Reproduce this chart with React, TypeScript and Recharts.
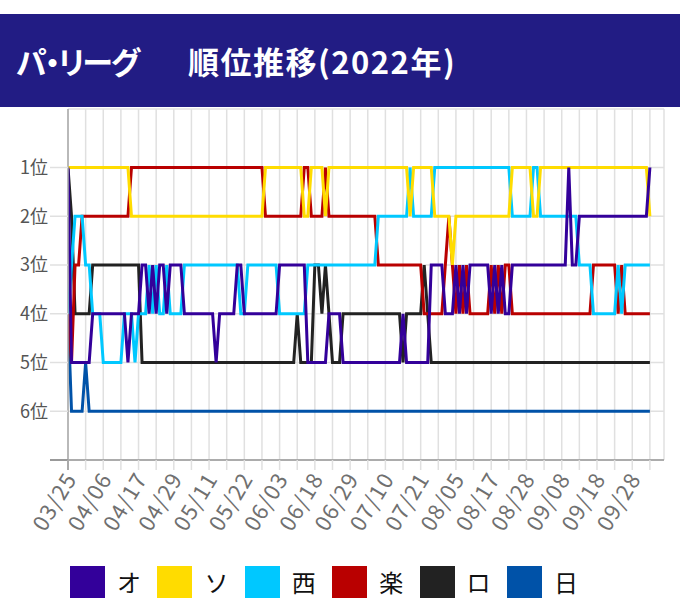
import React from 'react';
import { LineChart, Line, XAxis, YAxis, CartesianGrid } from 'recharts';

// tick labels: one every 10 game days
const DATE_LABELS = ['03/25', '04/06', '04/17', '04/29', '05/11', '05/22', '06/03', '06/18', '06/29', '07/10', '07/21', '08/05', '08/17', '08/28', '09/08', '09/18', '09/28'];
const RANK_LABELS = ['1位', '2位', '3位', '4位', '5位', '6位'];

const TEAMS = ['オ', 'ソ', '西', '楽', 'ロ', '日'];
const TEAM_KEYS = ['o', 's', 'l', 'e', 'm', 'f'];
const TEAM_COLORS = ['#33009a', '#ffdc00', '#00c8ff', '#b90000', '#222222', '#0052a8'];

// rank per game day (index 0 = 03/25)
const ORIX = [
  1, 5, 5, 5, 5, 5, 5, 4, 4, 4, 4, 4, 4, 4, 4, 4, 4, 5, 4, 4,
  4, 3, 3, 4, 3, 4, 3, 3, 4, 3, 3, 3, 3, 4, 4, 4, 4, 4, 4, 4,
  4, 4, 5, 4, 4, 4, 4, 4, 3, 3, 4, 4, 4, 4, 4, 4, 4, 4, 4, 4,
  3, 3, 3, 3, 3, 3, 3, 3, 5, 5, 5, 5, 5, 5, 4, 4, 4, 4, 5, 5,
  5, 5, 5, 5, 5, 5, 5, 5, 5, 5, 5, 5, 5, 5, 5, 4, 5, 5, 5, 5,
  5, 5, 5, 3, 3, 3, 3, 4, 4, 4, 3, 4, 3, 4, 3, 3, 3, 3, 3, 3,
  4, 3, 4, 3, 4, 4, 3, 3, 3, 3, 3, 3, 3, 3, 3, 3, 3, 3, 3, 3,
  3, 3, 1, 3, 3, 2, 2, 2, 2, 2, 2, 2, 2, 2, 2, 2, 2, 2, 2, 2,
  2, 2, 2, 2, 2, 1,
];
const SOFTBANK = [
  1, 1, 1, 1, 1, 1, 1, 1, 1, 1, 1, 1, 1, 1, 1, 1, 1, 1, 2, 2,
  2, 2, 2, 2, 2, 2, 2, 2, 2, 2, 2, 2, 2, 2, 2, 2, 2, 2, 2, 2,
  2, 2, 2, 2, 2, 2, 2, 2, 2, 2, 2, 2, 2, 2, 2, 2, 1, 1, 1, 1,
  1, 1, 1, 1, 1, 1, 1, 2, 2, 1, 1, 1, 1, 2, 1, 1, 1, 1, 1, 1,
  1, 1, 1, 1, 1, 1, 1, 1, 1, 1, 1, 1, 1, 1, 1, 1, 1, 2, 1, 1,
  1, 1, 1, 1, 2, 2, 2, 2, 2, 3, 2, 2, 2, 2, 2, 2, 2, 2, 2, 2,
  2, 2, 2, 2, 2, 2, 1, 1, 1, 1, 1, 1, 2, 2, 1, 1, 1, 1, 1, 1,
  1, 1, 1, 1, 1, 1, 1, 1, 1, 1, 1, 1, 1, 1, 1, 1, 1, 1, 1, 1,
  1, 1, 1, 1, 1, 2,
];
const SEIBU = [
  4, 3, 2, 2, 2, 3, 3, 4, 4, 4, 5, 5, 5, 5, 5, 5, 4, 4, 4, 5,
  4, 4, 4, 3, 4, 3, 4, 4, 3, 4, 4, 4, 4, 3, 3, 3, 3, 3, 3, 3,
  3, 3, 3, 3, 3, 3, 3, 3, 3, 4, 4, 3, 3, 3, 3, 3, 3, 3, 3, 3,
  4, 4, 4, 4, 4, 4, 4, 4, 3, 3, 3, 3, 3, 3, 3, 3, 3, 3, 3, 3,
  3, 3, 3, 3, 3, 3, 3, 3, 2, 2, 2, 2, 2, 2, 2, 2, 2, 1, 2, 2,
  2, 2, 2, 2, 1, 1, 1, 1, 1, 1, 1, 1, 1, 1, 1, 1, 1, 1, 1, 1,
  1, 1, 1, 1, 1, 1, 2, 2, 2, 2, 2, 2, 1, 1, 2, 2, 2, 2, 2, 2,
  2, 2, 2, 2, 2, 3, 3, 3, 3, 4, 4, 4, 4, 4, 4, 4, 3, 4, 3, 3,
  3, 3, 3, 3, 3, 3,
];
const RAKUTEN = [
  4, 5, 3, 3, 2, 2, 2, 2, 2, 2, 2, 2, 2, 2, 2, 2, 2, 2, 1, 1,
  1, 1, 1, 1, 1, 1, 1, 1, 1, 1, 1, 1, 1, 1, 1, 1, 1, 1, 1, 1,
  1, 1, 1, 1, 1, 1, 1, 1, 1, 1, 1, 1, 1, 1, 1, 1, 2, 2, 2, 2,
  2, 2, 2, 2, 2, 2, 2, 1, 1, 2, 2, 2, 2, 1, 2, 2, 2, 2, 2, 2,
  2, 2, 2, 2, 2, 2, 2, 2, 3, 3, 3, 3, 3, 3, 3, 3, 3, 3, 3, 3,
  3, 4, 4, 4, 4, 4, 4, 3, 2, 3, 4, 3, 4, 3, 4, 4, 4, 4, 4, 4,
  3, 4, 3, 4, 3, 3, 4, 4, 4, 4, 4, 4, 4, 4, 4, 4, 4, 4, 4, 4,
  4, 4, 4, 4, 4, 4, 4, 4, 4, 3, 3, 3, 3, 3, 3, 3, 4, 3, 4, 4,
  4, 4, 4, 4, 4, 4,
];
const LOTTE = [
  1, 2, 4, 4, 4, 4, 4, 3, 3, 3, 3, 3, 3, 3, 3, 3, 3, 3, 3, 3,
  3, 5, 5, 5, 5, 5, 5, 5, 5, 5, 5, 5, 5, 5, 5, 5, 5, 5, 5, 5,
  5, 5, 5, 5, 5, 5, 5, 5, 5, 5, 5, 5, 5, 5, 5, 5, 5, 5, 5, 5,
  5, 5, 5, 5, 5, 4, 5, 5, 5, 5, 3, 3, 4, 3, 4, 5, 5, 5, 4, 4,
  4, 4, 4, 4, 4, 4, 4, 4, 4, 4, 4, 4, 4, 4, 4, 5, 4, 4, 4, 4,
  4, 3, 4, 5, 5, 5, 5, 5, 5, 5, 5, 5, 5, 5, 5, 5, 5, 5, 5, 5,
  5, 5, 5, 5, 5, 5, 5, 5, 5, 5, 5, 5, 5, 5, 5, 5, 5, 5, 5, 5,
  5, 5, 5, 5, 5, 5, 5, 5, 5, 5, 5, 5, 5, 5, 5, 5, 5, 5, 5, 5,
  5, 5, 5, 5, 5, 5,
];
const NIPPONHAM = [
  4, 6, 6, 6, 6, 5, 6, 6, 6, 6, 6, 6, 6, 6, 6, 6, 6, 6, 6, 6,
  6, 6, 6, 6, 6, 6, 6, 6, 6, 6, 6, 6, 6, 6, 6, 6, 6, 6, 6, 6,
  6, 6, 6, 6, 6, 6, 6, 6, 6, 6, 6, 6, 6, 6, 6, 6, 6, 6, 6, 6,
  6, 6, 6, 6, 6, 6, 6, 6, 6, 6, 6, 6, 6, 6, 6, 6, 6, 6, 6, 6,
  6, 6, 6, 6, 6, 6, 6, 6, 6, 6, 6, 6, 6, 6, 6, 6, 6, 6, 6, 6,
  6, 6, 6, 6, 6, 6, 6, 6, 6, 6, 6, 6, 6, 6, 6, 6, 6, 6, 6, 6,
  6, 6, 6, 6, 6, 6, 6, 6, 6, 6, 6, 6, 6, 6, 6, 6, 6, 6, 6, 6,
  6, 6, 6, 6, 6, 6, 6, 6, 6, 6, 6, 6, 6, 6, 6, 6, 6, 6, 6, 6,
  6, 6, 6, 6, 6, 6,
];

const SERIES = [ORIX, SOFTBANK, SEIBU, RAKUTEN, LOTTE, NIPPONHAM];

const data = ORIX.map((_, i) => {
  const row: Record<string, number> = { i };
  TEAM_KEYS.forEach((k, t) => {
    row[k] = SERIES[t][i];
  });
  return row;
});

const X_TICKS: number[] = [];
for (let v = 0; v <= 165; v += 5) X_TICKS.push(v);

const FONT = '"Noto Sans CJK JP", "Noto Sans", sans-serif';

const XTick = (props: any) => {
  const { x, y, payload } = props;
  const v = payload.value as number;
  if (v % 10 !== 0) return null;
  const label = DATE_LABELS[v / 10];
  const ax = x + 4;
  const ay = y + 3;
  return (
    <text
      x={ax}
      y={ay}
      dy="0.3em"
      textAnchor="end"
      transform={`rotate(-59, ${ax}, ${ay})`}
      fill="#707070"
      fontSize={22}
      letterSpacing={1.2}
      fontFamily={FONT}
    >
      {label}
    </text>
  );
};

export default function App() {
  const drawOrder = [5, 4, 3, 2, 1, 0];
  return (
    <div style={{ position: 'absolute', left: 0, top: 0, width: 680, height: 615, background: '#fff', overflow: 'hidden', fontFamily: FONT }}>
      <div style={{ position: 'absolute', left: 0, top: 14, width: 680, height: 93, background: '#221c84' }}>
        <div style={{ position: 'absolute', left: 16, top: 0, lineHeight: '93px', color: '#fff', fontSize: 31, fontWeight: 700, whiteSpace: 'nowrap', fontFeatureSettings: '"palt"', letterSpacing: -2 }}>
          パ・リーグ
        </div>
        <div style={{ position: 'absolute', left: 188, top: 0, lineHeight: '93px', color: '#fff', fontSize: 31, fontWeight: 700, whiteSpace: 'nowrap', fontFeatureSettings: '"palt"', letterSpacing: 1.5 }}>
          順位推移(2022年)
        </div>
      </div>
      <div style={{ position: 'absolute', left: 0, top: 0 }}>
        <LineChart width={680} height={540} data={data} margin={{ top: 109, right: 16, left: 0, bottom: 0 }}>
          <CartesianGrid stroke="#e0e0e0" strokeWidth={1.5} />
          <XAxis
            dataKey="i"
            type="number"
            domain={[0, 169]}
            ticks={X_TICKS}
            interval={0}
            allowDataOverflow
            height={80}
            tickSize={10}
            tickMargin={2}
            tickLine={{ stroke: '#e0e0e0', strokeWidth: 1.5 }}
            axisLine={{ stroke: '#999', strokeWidth: 1.5 }}
            tick={<XTick />}
          />
          <YAxis
            type="number"
            reversed
            domain={[-0.2, 7]}
            allowDataOverflow
            ticks={[1, 2, 3, 4, 5, 6]}
            tickFormatter={(v: number) => RANK_LABELS[v - 1]}
            width={68}
            tickSize={18}
            tickMargin={2}
            tickLine={{ stroke: '#e0e0e0', strokeWidth: 1.5 }}
            axisLine={{ stroke: '#aaa', strokeWidth: 1.5 }}
            tick={{ fill: '#555', fontSize: 18, fontFamily: FONT }}
          />
          {drawOrder.map((t) => (
            <Line
              key={TEAM_KEYS[t]}
              dataKey={TEAM_KEYS[t]}
              name={TEAMS[t]}
              type="linear"
              stroke={TEAM_COLORS[t]}
              strokeWidth={3}
              dot={false}
              activeDot={false}
              isAnimationActive={false}
            />
          ))}
        </LineChart>
      </div>
      <div style={{ position: 'absolute', left: 50, top: 459, width: 18, height: 1.5, background: '#999' }} />
      <div style={{ position: 'absolute', left: 67.3, top: 460, width: 1.5, height: 10, background: '#aaa' }} />
      <div style={{ position: 'absolute', left: 70, top: 566, height: 32, display: 'flex' }}>
        {TEAMS.map((name, t) => (
          <div key={name} style={{ width: 87.4, height: 32, display: 'flex', alignItems: 'center' }}>
            <div style={{ width: 35, height: 32, background: TEAM_COLORS[t], flex: 'none' }} />
            <div style={{ marginLeft: 12, fontSize: 24, color: '#111', lineHeight: '32px' }}>{name}</div>
          </div>
        ))}
      </div>
    </div>
  );
}
